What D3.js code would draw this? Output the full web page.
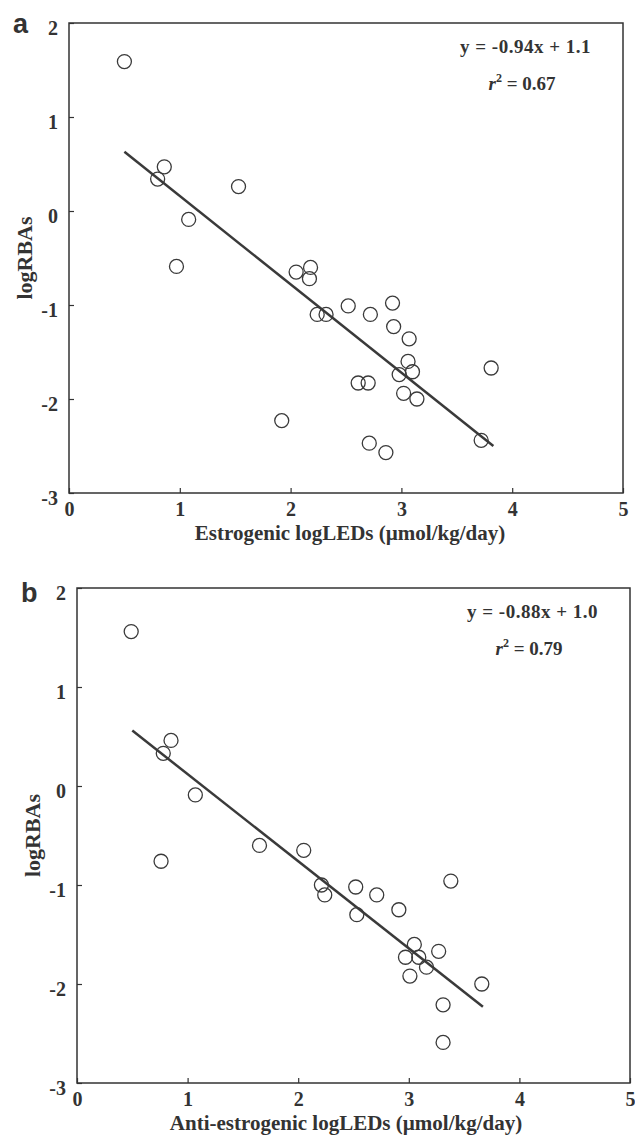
<!DOCTYPE html>
<html>
<head>
<meta charset="utf-8">
<script src="https://cdn.jsdelivr.net/npm/d3@7"></script>
<style>
  body { margin: 0; background: #fff; }
  svg text { font-family: "Liberation Serif", "DejaVu Serif", serif; font-weight: bold; fill: #333; }
</style>
</head>
<body>
<svg id="chart" width="635" height="1135"></svg>
<script>
// panel a: estrogenic
const estroX = [0.50, 0.80, 0.86, 1.08, 0.97, 1.53, 2.05, 2.18, 2.17, 1.92, 2.24, 2.32, 2.52, 2.72, 2.92,
  2.93, 3.07, 3.06, 2.98, 3.10, 2.61, 2.70, 3.02, 3.14, 3.81, 2.71, 2.86, 3.72];
const estroY = [1.59, 0.34, 0.47, -0.09, -0.59, 0.26, -0.65, -0.60, -0.72, -2.23, -1.10, -1.10, -1.01, -1.10, -0.98,
  -1.23, -1.36, -1.60, -1.74, -1.71, -1.83, -1.83, -1.94, -2.00, -1.67, -2.47, -2.57, -2.44];

// panel b: anti-estrogenic
const antiX = [0.49, 0.78, 0.85, 1.07, 0.76, 1.65, 2.05, 2.21, 2.24, 2.52, 2.53, 2.71, 2.91, 3.38,
  3.05, 2.97, 3.09, 3.27, 3.16, 3.01, 3.66, 3.31, 3.31];
const antiY = [1.56, 0.33, 0.46, -0.09, -0.76, -0.60, -0.65, -1.00, -1.10, -1.02, -1.30, -1.10, -1.25, -0.96,
  -1.60, -1.73, -1.73, -1.67, -1.83, -1.92, -2.00, -2.21, -2.59];

// regression lines: [slope, intercept], x range
const fitA = [-0.94, 1.1], rangeA = [0.5, 3.83];
const fitB = [-0.88, 1.0], rangeB = [0.5, 3.67];

const xTicks = [0, 1, 2, 3, 4, 5];
const yTicks = [-3, -2, -1, 0, 1, 2];

const svg = d3.select('#chart');
const ink = '#333';

function drawPanel(opt) {
  let g = svg.append('g');
  let x = d3.scaleLinear().domain([0, 5]).range([opt.left, opt.right]);
  let y = d3.scaleLinear().domain([-3, 2]).range([opt.bottom, opt.top]);

  // inward ticks
  g.append('g')
    .attr('transform', `translate(0,${opt.bottom})`)
    .call(d3.axisBottom(x).tickValues(xTicks).tickSizeInner(-5).tickSizeOuter(0).tickFormat(d => String(d)))
    .call(a => a.select('.domain').remove())
    .call(a => a.selectAll('line').attr('stroke', ink).attr('stroke-width', 1.2))
    .call(a => a.selectAll('text').attr('font-size', 20).attr('y', 23).attr('dy', 0));

  g.append('g')
    .attr('transform', `translate(${opt.left},0)`)
    .call(d3.axisLeft(y).tickValues(yTicks).tickSizeInner(-5).tickSizeOuter(0).tickPadding(11).tickFormat(d => String(d)))
    .call(a => a.select('.domain').remove())
    .call(a => a.selectAll('line').attr('stroke', ink).attr('stroke-width', 1.2))
    .call(a => a.selectAll('text').attr('font-size', 20).attr('dy', '0.55em'));

  // frame
  g.append('rect')
    .attr('x', opt.left).attr('y', opt.top)
    .attr('width', opt.right - opt.left).attr('height', opt.bottom - opt.top)
    .attr('fill', 'none').attr('stroke', ink).attr('stroke-width', 1.5);

  // fit line
  g.append('line')
    .attr('x1', x(opt.range[0])).attr('y1', y(opt.fit[0] * opt.range[0] + opt.fit[1]))
    .attr('x2', x(opt.range[1])).attr('y2', y(opt.fit[0] * opt.range[1] + opt.fit[1]))
    .attr('stroke', '#3a3a3a').attr('stroke-width', 2.5);

  // points
  g.selectAll('circle.pt')
    .data(opt.xs.map((v, i) => [v, opt.ys[i]]))
    .enter().append('circle')
    .attr('class', 'pt')
    .attr('cx', d => x(d[0])).attr('cy', d => y(d[1]))
    .attr('r', 7)
    .attr('fill', 'none').attr('stroke', '#3a3a3a').attr('stroke-width', 1.3);

  // equation text
  g.append('text')
    .attr('x', opt.right - 32).attr('y', opt.top + 30)
    .attr('text-anchor', 'end').attr('font-size', 19)
    .attr('letter-spacing', 0.5)
    .text(opt.eq);

  let r2 = g.append('text')
    .attr('x', opt.right - 101).attr('y', opt.top + 67)
    .attr('text-anchor', 'middle').attr('font-size', 19);
  r2.append('tspan').attr('font-style', 'italic').text('r');
  r2.append('tspan').attr('dy', -8).attr('font-size', 12).text('2');
  r2.append('tspan').attr('dy', 8).text(' = ' + opt.r2);

  // panel letter
  g.append('text')
    .attr('x', opt.left - 56).attr('y', opt.top + opt.letterDy)
    .style('font-family', '"Liberation Sans", Arial, sans-serif')
    .attr('font-size', 27)
    .text(opt.letter);

  // axis titles
  g.append('text')
    .attr('x', opt.xlabelX).attr('y', opt.bottom + 47)
    .attr('text-anchor', 'middle').attr('font-size', 21)
    .text(opt.xlabel);

  g.append('text')
    .attr('transform', `translate(${opt.left - 37},${y(-0.5)}) rotate(-90)`)
    .attr('text-anchor', 'middle').attr('font-size', 22)
    .text('logRBAs');
}

drawPanel({
  left: 69, right: 623, top: 23, bottom: 493,
  xs: estroX, ys: estroY, fit: fitA, range: rangeA,
  eq: 'y = -0.94x + 1.1', r2: '0.67', letter: 'a', letterDy: 10,
  xlabel: 'Estrogenic logLEDs (\u00b5mol/kg/day)', xlabelX: 350
});

drawPanel({
  left: 77, right: 630, top: 588, bottom: 1083,
  xs: antiX, ys: antiY, fit: fitB, range: rangeB,
  eq: 'y = -0.88x + 1.0', r2: '0.79', letter: 'b', letterDy: 14,
  xlabel: 'Anti-estrogenic logLEDs (\u00b5mol/kg/day)', xlabelX: 346
});
</script>
</body>
</html>
